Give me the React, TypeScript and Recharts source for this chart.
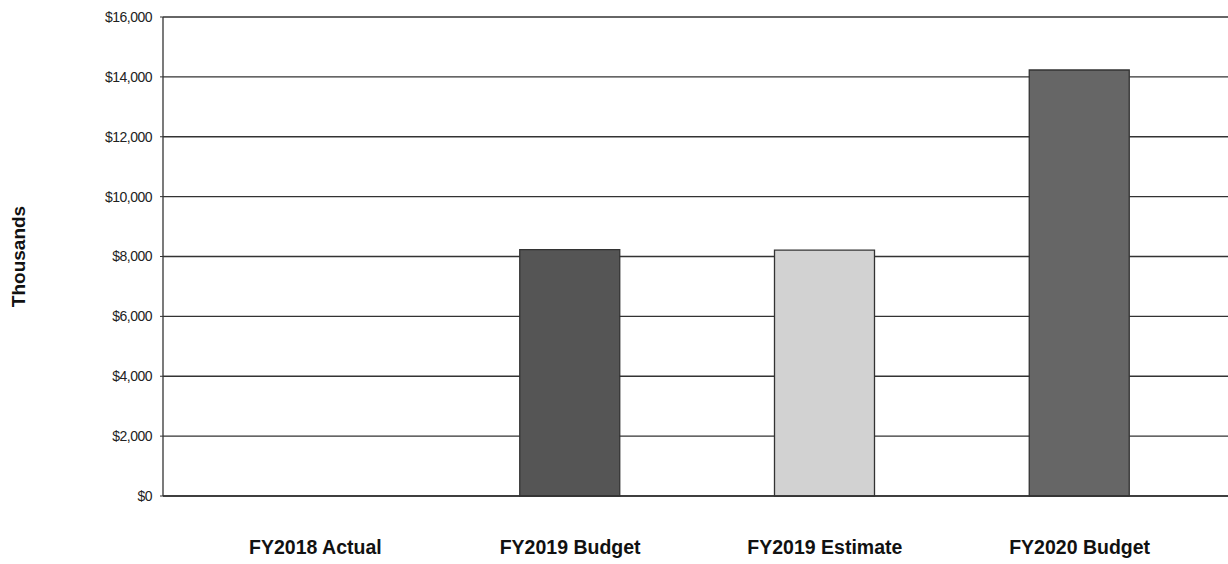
import React from "react";
import { BarChart, Bar, XAxis, YAxis, CartesianGrid, Cell } from "recharts";

const categories = ["FY2018 Actual", "FY2019 Budget", "FY2019 Estimate", "FY2020 Budget"];
const values = [0, 8230, 8210, 14230];
const barColors = ["#5a5a5a", "#555555", "#d2d2d2", "#666666"];
const yTicks = [0, 2000, 4000, 6000, 8000, 10000, 12000, 14000, 16000];

const data = categories.map((name, i) => ({ name, value: values[i] }));

const XTick = (props: any) => {
  const { x, y, payload } = props;
  return (
    <text x={x} y={y + 50} textAnchor="middle" fontFamily="Liberation Sans, Arial, sans-serif" fontWeight="bold" fontSize={19.5} fill="#111">
      {payload.value}
    </text>
  );
};

export default function App() {
  return (
    <div style={{ position: "absolute", left: 0, top: 0, width: 1228, height: 564, background: "#fff" }}>
      <BarChart width={1228} height={564} data={data} margin={{ top: 17, right: 0, left: 0, bottom: 0 }} barCategoryGap={0}>
        <CartesianGrid vertical={false} stroke="#333" strokeWidth={1.3} />
        <XAxis
          dataKey="name"
          height={68}
          axisLine={{ stroke: "#333", strokeWidth: 1.3 }}
          tickLine={false}
          tick={<XTick />}
          padding={{ left: 25, right: 21 }}
          interval={0}
        />
        <YAxis
          width={163}
          domain={[0, 16000]}
          ticks={yTicks}
          interval={0}
          axisLine={{ stroke: "#333", strokeWidth: 1.3 }}
          tickLine={{ stroke: "#333" }}
          tickSize={3}
          tickMargin={8}
          tick={{ fontFamily: "Liberation Sans, Arial, sans-serif", fontSize: 14, fill: "#222", letterSpacing: -0.5 }}
          tickFormatter={(v: number) => "$" + v.toLocaleString("en-US")}
          label={{
            value: "Thousands",
            angle: -90,
            position: "insideLeft",
            offset: 18,
            style: { fontFamily: "Liberation Sans, Arial, sans-serif", fontWeight: "bold", fontSize: 19, fill: "#111", textAnchor: "middle" },
          }}
        />
        <Bar dataKey="value" barSize={100} stroke="#333" strokeWidth={1.3} isAnimationActive={false}>
          {data.map((d, i) => (
            <Cell key={d.name} fill={barColors[i]} />
          ))}
        </Bar>
      </BarChart>
    </div>
  );
}
